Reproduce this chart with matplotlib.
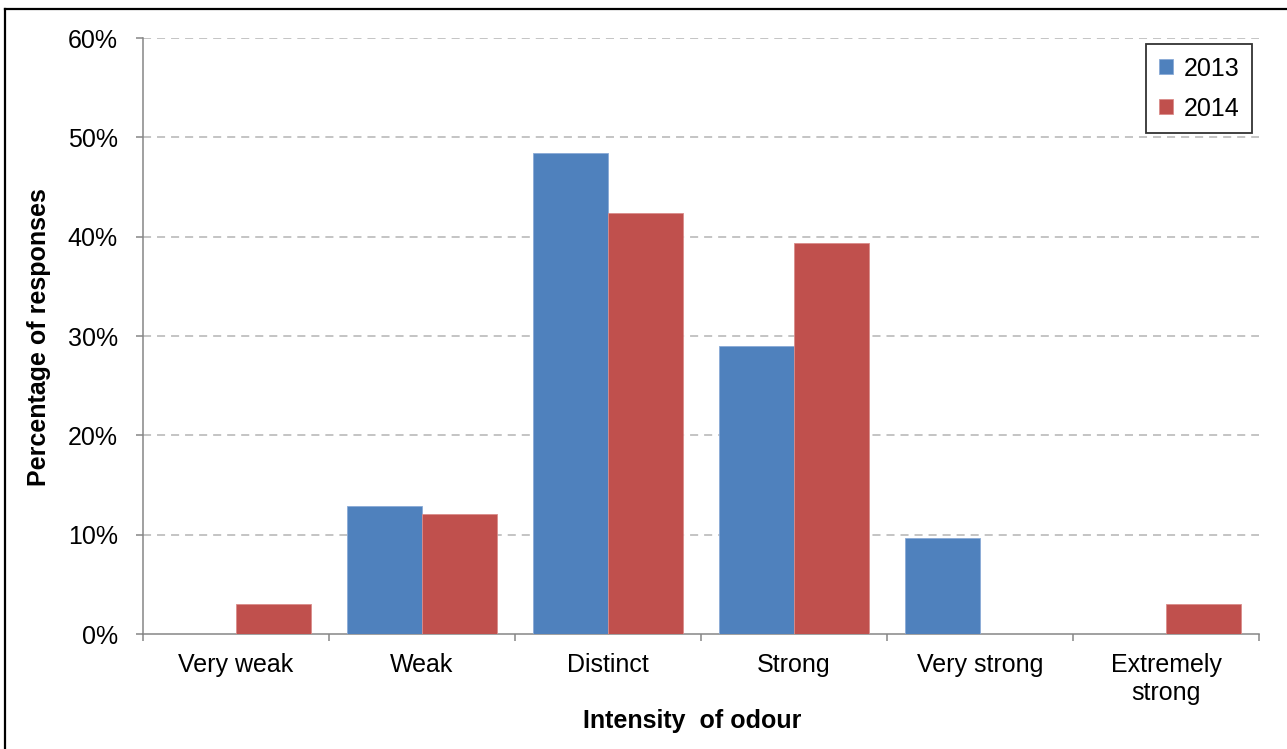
import matplotlib
matplotlib.use("Agg")
import matplotlib.pyplot as plt
import numpy as np
from matplotlib.lines import Line2D
from matplotlib.ticker import FixedLocator, FuncFormatter

plt.rcParams['font.family'] = ['Liberation Sans', 'DejaVu Sans']
plt.rcParams['lines.scale_dashes'] = False

categories = ["Very weak", "Weak", "Distinct", "Strong", "Very strong", "Extremely\nstrong"]
series_names = ["2013", "2014"]
values_2013 = [0.0, 12.9, 48.4, 29.0, 9.7, 0.0]
values_2014 = [3.0, 12.1, 42.4, 39.4, 0.0, 3.0]
y_ticks = [0, 10, 20, 30, 40, 50, 60]

blue = "#4F81BD"
red = "#C0504D"
axis_grey = "#868686"

W, H = 1287, 749
fig = plt.figure(figsize=(W / 100, H / 100), dpi=100)
ax = fig.add_axes([143 / W, 1 - 634 / H, (1259 - 143) / W, (634 - 38) / H])

x = np.arange(len(categories))
bw = 0.403
ax.bar(x - bw / 2, values_2013, bw, color=blue, edgecolor="#8AAAD6", linewidth=0.6,
       label=series_names[0], zorder=3)
ax.bar(x + bw / 2, values_2014, bw, color=red, edgecolor="#DA8C8A", linewidth=0.6,
       label=series_names[1], zorder=3)

ax.set_xlim(-0.5, len(categories) - 0.5)
ax.set_ylim(0, 60)

# y axis
ax.yaxis.set_major_locator(FixedLocator(y_ticks))
ax.yaxis.set_major_formatter(FuncFormatter(lambda v, p: f"{int(v)}%"))
ax.tick_params(axis="y", direction="out", length=5, width=1.1, color=axis_grey,
               labelsize=18, pad=13, labelcolor="black")

# x axis: labels at centres, tick marks at category boundaries
ax.set_xticks(x)
ax.set_xticklabels(categories, fontsize=18, linespacing=1.2)
ax.tick_params(axis="x", which="major", length=0, pad=14)
ax.set_xticks(np.arange(-0.5, len(categories)), minor=True)
ax.tick_params(axis="x", which="minor", direction="out", length=5, width=1.1, color=axis_grey)

for s in ("top", "right"):
    ax.spines[s].set_visible(False)
for s in ("left", "bottom"):
    ax.spines[s].set_color(axis_grey)
    ax.spines[s].set_linewidth(1.1)

for t in y_ticks[1:]:
    ax.axhline(t, color="#BFBFBF", linewidth=1.3, dashes=(5.8, 4.3), zorder=1)

fig.text(39 / W, 1 - 337 / H, "Percentage of responses", rotation=90, fontsize=18,
         fontweight="bold", ha="center", va="center")
fig.text(692 / W, 1 - 721 / H, "Intensity  of odour", fontsize=18,
         fontweight="bold", ha="center", va="center")

leg = ax.legend(loc="upper right", bbox_to_anchor=(1252 / W, 1 - 44 / H),
                bbox_transform=fig.transFigure, fontsize=18, frameon=True,
                fancybox=False, edgecolor="black", handlelength=0.55, handleheight=0.55,
                handletextpad=0.45, labelspacing=0.65, borderpad=0.5, borderaxespad=0)
leg.get_frame().set_linewidth(1.3)

# outer chart frame
fig.add_artist(Line2D([5 / W, 5 / W], [0, 1 - 9 / H], color="black", linewidth=1.6))
fig.add_artist(Line2D([5 / W, 1], [1 - 9 / H, 1 - 9 / H], color="black", linewidth=1.6))

fig.savefig("out.png", dpi=100)
